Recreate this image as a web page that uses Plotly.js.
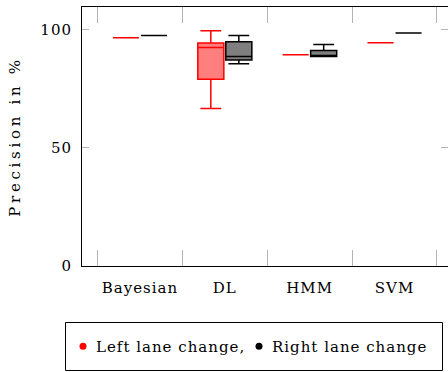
<!DOCTYPE html>
<html>
<head>
<meta charset="utf-8">
<script src="https://cdn.plot.ly/plotly-3.0.1.min.js"></script>
<style>
  html, body { margin: 0; padding: 0; background: #fff; }
  #chart { width: 448px; height: 372px; }
  .xtick text, .ytick text, .legendtext { letter-spacing: 1px; }
  .legendtext, .ytitle, .xtick text, .ytick text { font-family: 'DejaVu Serif', serif !important; }
  .legendtext { transform: translate(-7px, 0px); }
  .ytitle { letter-spacing: 3.7px; }
</style>
</head>
<body>
<div id="chart"></div>
<script>
// ---- data ----
const categories = ['Bayesian', 'DL', 'HMM', 'SVM'];

const leftName = 'Left lane change,';
const leftLower  = [96.7, 66.7, 89.5, 94.6];
const leftQ1     = [96.7, 79.1, 89.5, 94.6];
const leftMedian = [96.7, 92.5, 89.5, 94.6];
const leftQ3     = [96.7, 94.4, 89.5, 94.6];
const leftUpper  = [96.7, 99.6, 89.5, 94.6];

const rightName = 'Right lane change';
const rightLower  = [97.6, 85.7, 88.7, 98.7];
const rightQ1     = [97.6, 87.2, 88.7, 98.7];
const rightMedian = [97.6, 88.7, 88.9, 98.7];
const rightQ3     = [97.6, 95.0, 91.3, 98.7];
const rightUpper  = [97.6, 97.6, 93.8, 98.7];

const yTickVals = [0, 50, 100];

// ---- styles ----
const FONT = 'DejaVu Serif';
const RED = 'rgb(255,0,0)';
const BLACK = 'rgb(0,0,0)';

function boxTrace(name, lower, q1, med, q3, upper, color, fill) {
  return {
    type: 'box',
    name: name,
    x: categories,
    lowerfence: lower,
    q1: q1,
    median: med,
    q3: q3,
    upperfence: upper,
    line: { color: color, width: 1.5 },
    fillcolor: fill,
    whiskerwidth: 0.8,
    boxpoints: false,
    showlegend: false,
    hoverinfo: 'skip'
  };
}

const traces = [
  boxTrace(leftName, leftLower, leftQ1, leftMedian, leftQ3, leftUpper, RED, 'rgba(255,0,0,0.5)'),
  boxTrace(rightName, rightLower, rightQ1, rightMedian, rightQ3, rightUpper, BLACK, 'rgba(0,0,0,0.5)'),
  { type: 'scatter', mode: 'markers', name: leftName, x: [null], y: [null],
    marker: { color: RED, size: 7 }, showlegend: true, legendwidth: 131 },
  { type: 'scatter', mode: 'markers', name: rightName, x: [null], y: [null],
    marker: { color: BLACK, size: 7 }, showlegend: true }
];

const plotW = 448 - 82;
const plotH = 266 - 7;
const px = v => (v - 82) / plotW;
const py = v => (266 - v) / plotH;

const layout = {
  width: 448,
  height: 372,
  margin: { l: 82, r: 0, t: 7, b: 106, pad: 0 },
  paper_bgcolor: '#fff',
  plot_bgcolor: '#fff',
  font: { family: FONT, size: 15, color: '#000' },
  boxmode: 'group',
  boxgap: 0.34,
  boxgroupgap: 0.07,
  showlegend: true,
  xaxis: {
    type: 'category',
    categoryorder: 'array',
    categoryarray: categories,
    range: [-0.683, 3.63],
    tickson: 'boundaries',
    ticks: 'inside',
    ticklen: 16,
    tickwidth: 1,
    tickcolor: '#b4b4b4',
    showgrid: false,
    zeroline: false,
    showline: true,
    linecolor: '#000',
    linewidth: 1,
    mirror: 'ticks',
    ticklabelstandoff: 8,
    tickfont: { family: FONT, size: 15, color: '#000' },
    fixedrange: true
  },
  yaxis: {
    range: [0, 109.7],
    tickvals: yTickVals,
    ticktext: yTickVals.map(String),
    ticks: 'inside',
    ticklen: 7,
    tickwidth: 1,
    tickcolor: '#b4b4b4',
    showgrid: false,
    zeroline: false,
    showline: true,
    linecolor: '#000',
    linewidth: 1,
    mirror: 'ticks',
    ticklabelstandoff: 6,
    tickfont: { family: FONT, size: 15, color: '#000' },
    title: { text: 'Precision in %', font: { family: FONT, size: 15, color: '#000' }, standoff: 16 },
    fixedrange: true
  },
  legend: {
    orientation: 'h',
    xref: 'paper',
    yref: 'paper',
    x: px(63),
    xanchor: 'left',
    y: py(346.5),
    yanchor: 'middle',
    bgcolor: 'rgba(0,0,0,0)',
    borderwidth: 0,
    font: { family: FONT, size: 15, color: '#000' },
    itemclick: false,
    itemdoubleclick: false
  },
  shapes: [{
    type: 'rect', xref: 'paper', yref: 'paper',
    x0: px(65.5), x1: px(442.5), y0: py(322.5), y1: py(370.5),
    line: { color: '#000', width: 1 }, fillcolor: 'rgba(0,0,0,0)', layer: 'above'
  }]
};

Plotly.newPlot('chart', traces, layout, { displayModeBar: false, staticPlot: true });
</script>
</body>
</html>
